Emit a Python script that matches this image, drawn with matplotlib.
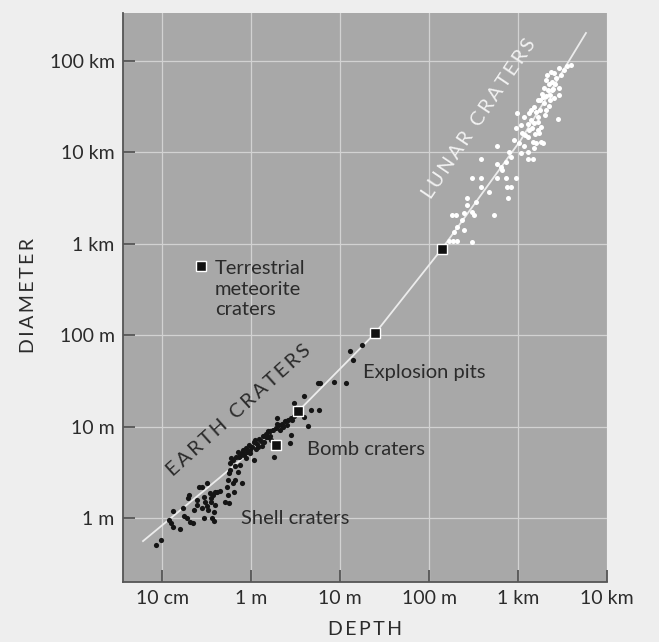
import matplotlib
matplotlib.use('Agg')
import matplotlib.pyplot as plt

# depth (m) vs diameter (m)
earth_depth = [
    0.086, 0.097, 0.118, 0.125, 0.134, 0.160, 0.132, 0.171, 0.174, 0.190,
    0.198, 0.195, 0.207, 0.222, 0.231, 0.246, 0.246, 0.257, 0.280, 0.292,
    0.280, 0.297, 0.305, 0.319, 0.319, 0.332, 0.347, 0.354, 0.356, 0.363,
    0.385, 0.385, 0.372, 0.395, 0.395, 0.413, 0.450, 0.512, 0.558, 0.544,
    0.535, 0.544, 0.558, 0.583, 0.583, 0.625, 0.647, 0.664, 0.705, 0.756,
    0.796, 0.723, 0.790, 0.883, 0.980, 1.07,
    0.630, 0.681, 0.718, 0.817, 0.883, 0.954, 1.03, 1.09, 1.17, 1.24,
    1.30, 1.37, 1.48, 1.56, 1.65, 1.78, 1.92, 2.08, 2.25, 2.43,
    2.62, 2.84, 3.07, 0.980, 1.14, 0.838, 1.34, 2.13, 2.56, 1.69,
    1.47, 1.96, 1.79, 2.71, 2.81, 4.33, 3.97, 3.01, 3.90, 4.73,
    5.82, 5.61, 6.02, 8.65, 11.8, 13.1, 14.0, 17.7,
    1.21, 1.41, 1.65, 2.31, 2.91, 0.906, 0.756, 1.12, 1.56, 1.97,
    0.664, 0.598,
]
earth_diam = [
    0.51, 0.57, 0.95, 0.89, 0.80, 0.75, 1.19, 1.28, 1.05, 0.99,
    1.79, 1.64, 0.91, 0.88, 1.22, 1.57, 1.39, 2.20, 2.20, 0.99,
    1.28, 1.71, 1.51, 2.43, 1.35, 1.22, 1.86, 1.64, 1.51, 0.99,
    1.17, 0.93, 1.79, 1.94, 1.39, 1.94, 1.99, 1.51, 1.47, 1.79,
    2.20, 2.60, 3.08, 3.35, 3.97, 2.40, 1.94, 2.60, 3.21, 3.80,
    2.40, 4.69, 5.10, 4.50, 5.10, 4.31,
    4.31, 4.65, 5.27, 5.55, 5.83, 6.29, 5.98, 6.78, 6.45, 7.32,
    6.96, 7.89, 8.30, 7.69, 8.95, 9.18, 9.65, 10.4, 10.7, 11.5,
    11.8, 12.4, 13.1, 5.55, 5.69, 4.89, 6.14, 9.18, 10.4, 7.14,
    7.76, 12.3, 4.69, 6.67, 8.09, 10.2, 12.6, 18.3, 21.6, 15.2,
    15.2, 30.2, 30.2, 31.0, 30.2, 67.7, 53.5, 78.1,
    5.98, 6.78, 7.89, 9.90, 11.8, 5.27, 4.77, 7.14, 8.95, 10.7,
    3.71, 4.53,
]

lunar_depth = [
    3930, 2900, 2550, 2340, 2670, 2900, 2900, 2790, 1660, 1520,
    1390, 987, 1170, 1390, 1810, 1660, 945, 904, 1120, 1280,
    1460, 1810, 1170, 1280, 1080, 588, 794, 830, 729, 1280,
    1470, 1520, 381, 588, 640, 669, 307, 381, 588, 729,
    945, 381, 762, 830, 473, 768, 270, 335, 270, 307,
    183, 199, 247, 320, 538, 237, 208, 247, 191, 166,
    185, 205, 307, 1730, 1590, 1030, 1890, 2060, 2220, 2400,
    1950, 2170, 2470, 1850, 2060, 2280, 1760, 1950, 2530, 3030,
    2110, 1590, 1760, 1290, 1510, 1080, 1320, 2000, 2220, 3280,
    3540, 1320, 1670, 2060, 2400, 1900, 1430, 1190, 1670, 2600,
    2280, 1550,
]
lunar_diam = [
    90400, 83200, 73400, 76400, 64700, 50300, 42500, 23200, 37400, 31600,
    29100, 26800, 24600, 22600, 19100, 17600, 18400, 13700, 16200, 14900,
    13100, 13100, 11600, 10200, 9780, 11600, 10200, 8980, 7910, 8410,
    8410, 11100, 8410, 7470, 6920, 6420, 5310, 5310, 5310, 5310,
    5310, 4210, 4210, 4210, 3720, 3150, 3150, 2890, 2660, 2250,
    2070, 2070, 2160, 2070, 2070, 1820, 1540, 1420, 1360, 1070,
    1070, 1070, 1050, 16200, 12600, 12600, 12600, 62000, 56000, 58900,
    50700, 48200, 49400, 43500, 41400, 42500, 37400, 34700, 39400, 70300,
    70300, 27700, 29100, 20500, 21000, 19900, 17600, 25700, 32200, 79700,
    88200, 27000, 24400, 29100, 48200, 40400, 18500, 15500, 21500, 56000,
    37400, 15900,
]

meteorite_depth = [1.9, 3.4, 25, 141]
meteorite_diam = [6.3, 14.7, 106, 877]

curve_depth = [0.061, 0.45, 3.4, 25, 142, 1077, 5810]
curve_diam = [0.56, 2.8, 14.8, 106, 900, 13670, 202400]

x_ticks = [0.1, 1, 10, 100, 1000, 10000]
x_labels = ['10 cm', '1 m', '10 m', '100 m', '1 km', '10 km']
y_ticks = [1, 10, 100, 1000, 1e4, 1e5]
y_labels = ['1 m', '10 m', '100 m', '1 km', '10 km', '100 km']

plt.rcParams['font.family'] = ['Lato', 'DejaVu Sans']

INK = '#2b2b2b'


def spaced(s):
    # the print uses wide letter spacing on the caps labels
    return '\u2009'.join(s)


fig = plt.figure(figsize=(6.59, 6.42), dpi=100, facecolor='#eeeeee')
ax = fig.add_axes([0.1866, 0.0935, 0.7344, 0.8863])
ax.set_facecolor('#a8a8a8')

ax.plot(curve_depth, curve_diam, color='#ececec', lw=1.3, zorder=2)
ax.scatter(earth_depth, earth_diam, s=14, c='#151515', lw=0, zorder=3)
ax.scatter(lunar_depth, lunar_diam, s=13, c='white', lw=0, zorder=3)
ax.plot(meteorite_depth, meteorite_diam, 's', ms=6.5, mfc='#111111',
        mec='white', mew=1.0, zorder=4)

ax.set_xscale('log')
ax.set_yscale('log')
ax.set_xlim(0.0363, 1e4)
ax.set_ylim(0.2, 3.35e5)
ax.minorticks_off()
ax.set_xticks(x_ticks)
ax.set_xticklabels(x_labels)
ax.set_yticks(y_ticks)
ax.set_yticklabels(y_labels)

ax.set_axisbelow(True)
ax.grid(True, color='#d2d2d2', lw=0.9)
for side in ('top', 'right'):
    ax.spines[side].set_visible(False)
for side in ('left', 'bottom'):
    ax.spines[side].set_color('#555555')
    ax.spines[side].set_linewidth(1.3)
ax.tick_params(direction='in', length=8.5, width=1.3, color='#555555',
               labelsize=14, labelcolor=INK, pad=6)

ax.set_xlabel(spaced('DEPTH'), fontsize=14, color=INK, va='center')
ax.xaxis.set_label_coords(0.5, -0.0844)
ax.set_ylabel(spaced('DIAMETER'), fontsize=14, color=INK, va='center')
ax.yaxis.set_label_coords(-0.196, 0.5026)

# legend-like key for the square markers
ax.plot([0.161], [0.555], 's', ms=6.5, mfc='#111111', mec='white', mew=1.0,
        transform=ax.transAxes, clip_on=False)
ax.text(0.190, 0.566, 'Terrestrial\nmeteorite\ncraters', transform=ax.transAxes,
        fontsize=14.5, color=INK, ha='left', va='top', linespacing=1.27)

ax.text(0.496, 0.3585, 'Explosion pits', transform=ax.transAxes,
        fontsize=14.5, color=INK, ha='left', va='baseline')
ax.text(0.380, 0.2232, 'Bomb craters', transform=ax.transAxes,
        fontsize=14.5, color=INK, ha='left', va='baseline')
ax.text(0.243, 0.102, 'Shell craters', transform=ax.transAxes,
        fontsize=14.5, color=INK, ha='left', va='baseline')

ax.text(0.240, 0.302, spaced('EARTH CRATERS'), transform=ax.transAxes,
        fontsize=14.5, color=INK, rotation=42, rotation_mode='anchor',
        ha='center', va='center')
ax.text(0.7355, 0.8137, spaced('LUNAR CRATERS'), transform=ax.transAxes,
        fontsize=14.5, color='#f2f2f2', rotation=56, rotation_mode='anchor',
        ha='center', va='center')

fig.savefig('out.png', dpi=100, facecolor=fig.get_facecolor())
